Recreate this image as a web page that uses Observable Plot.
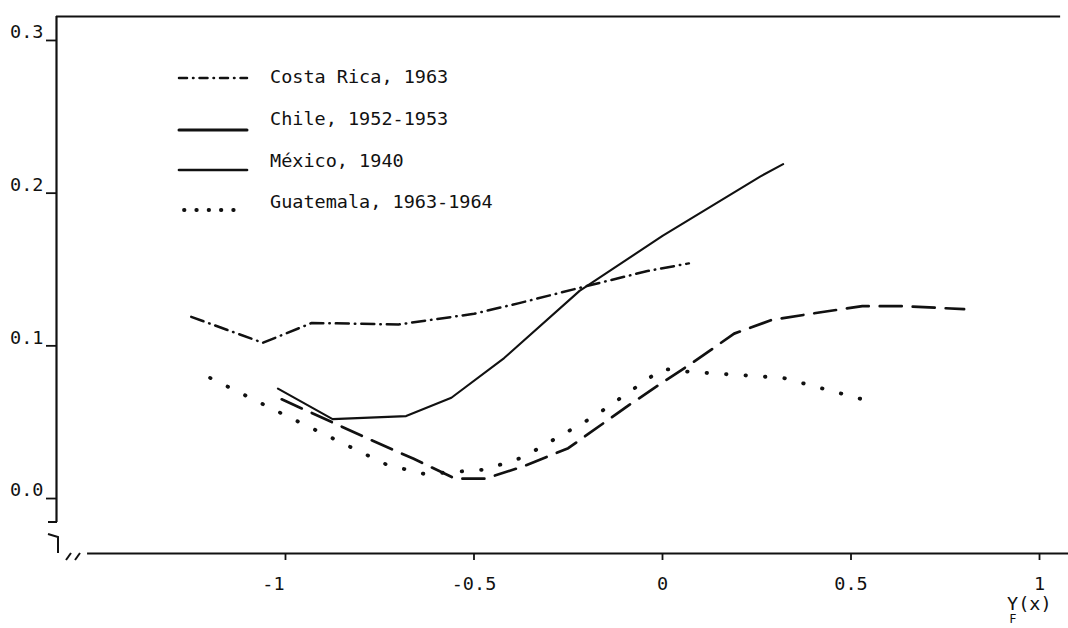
<!DOCTYPE html>
<html><head><meta charset="utf-8">
<script src="https://cdn.jsdelivr.net/npm/d3@7"></script>
<script src="https://cdn.jsdelivr.net/npm/@observablehq/plot@0.6"></script>
<style>
body{margin:0;background:#fff;}
#wrap{position:relative;width:1068px;height:628px;font-family:"DejaVu Sans Mono",monospace;color:#111;overflow:hidden;}
.lg{position:absolute;font-size:18.5px;line-height:22px;white-space:nowrap;}
#deco{position:absolute;left:0;top:0;}
</style></head><body><div id="wrap"></div>
<script>
// ---- data ----
const seriesNames = ["Costa Rica, 1963", "Chile, 1952-1953", "México, 1940", "Guatemala, 1963-1964"];

const costaRicaX = [-1.25, -1.06, -0.93, -0.70, -0.50, -0.38, -0.22, -0.04, 0.07];
const costaRicaY = [0.119, 0.102, 0.115, 0.114, 0.121, 0.128, 0.138, 0.149, 0.154];

const chileX = [-1.02, -0.875, -0.68, -0.56, -0.42, -0.22, 0.0, 0.26, 0.32];
const chileY = [0.072, 0.052, 0.054, 0.066, 0.092, 0.136, 0.172, 0.211, 0.219];

const mexicoX = [-1.01, -0.77, -0.66, -0.55, -0.47, -0.37, -0.25, -0.09, 0.0, 0.08, 0.19, 0.29, 0.42, 0.53, 0.64, 0.80];
const mexicoY = [0.065, 0.038, 0.026, 0.013, 0.013, 0.021, 0.033, 0.061, 0.076, 0.089, 0.108, 0.117, 0.122, 0.126, 0.126, 0.124];

const guatemalaX = [-1.20, -0.98, -0.73, -0.63, -0.47, -0.37, -0.18, 0.0, 0.07, 0.32, 0.56];
const guatemalaY = [0.079, 0.052, 0.022, 0.016, 0.019, 0.027, 0.054, 0.085, 0.083, 0.079, 0.063];

const xTicks = [-1, -0.5, 0, 0.5, 1];
const xTickLabels = ["-1", "-0.5", "0", "0.5", "1"];
const yTicks = [0.0, 0.1, 0.2, 0.3];
const yTickLabels = ["0.0", "0.1", "0.2", "0.3"];
const xAxisTitle = "Y";
const xAxisSub = "F";
const xAxisTail = "(x)";

// ---- build tables ----
const toRows = (xs, ys) => xs.map((x, i) => ({x, y: ys[i]}));
const costaRica = toRows(costaRicaX, costaRicaY);
const chile = toRows(chileX, chileY);
const mexico = toRows(mexicoX, mexicoY);
const guatemala = toRows(guatemalaX, guatemalaY);

const styles = [
  {strokeWidth: 2.5, strokeDasharray: "13,6,0.5,6"},
  {strokeWidth: 2.1, strokeDasharray: null},
  {strokeWidth: 2.7, strokeDasharray: "22,11"},
  {strokeWidth: 3.8, strokeDasharray: "0.5,19"}
];

const xDomain = [-1.6074, 1.0769];
const yDomain = [-0.036, 0.3157];
const ink = "#111";

const lineOpts = (s) => ({x: "x", y: "y", stroke: ink, strokeWidth: s.strokeWidth,
  strokeDasharray: s.strokeDasharray || undefined, strokeLinecap: "round", strokeLinejoin: "round"});

const fmtX = (d) => xTickLabels[xTicks.indexOf(d)];
const fmtY = (d) => yTickLabels[yTicks.indexOf(d)];

const chart = Plot.plot({
  width: 1068, height: 628,
  marginLeft: 56, marginRight: 0, marginTop: 16, marginBottom: 75,
  x: {domain: xDomain},
  y: {domain: yDomain},
  style: {fontFamily: "'DejaVu Sans Mono', monospace", fontSize: "18.5px", color: ink, background: "#fff"},
  marks: [
    Plot.ruleX([xDomain[0]], {y1: -0.0157, y2: yDomain[1], stroke: ink, strokeWidth: 2.2}),
    Plot.ruleY([yDomain[1]], {x1: xDomain[0], x2: 1.056, stroke: ink, strokeWidth: 2.2}),
    Plot.ruleY([yDomain[0]], {x1: -1.525, x2: xDomain[1], stroke: ink, strokeWidth: 2.2}),
    // y ticks (lines) and labels (raised, typewriter style)
    Plot.axisY(yTicks, {tickSize: 10, strokeWidth: 1.8, tickFormat: () => "", label: null}),
    Plot.axisY(yTicks, {tickSize: 0, tickPadding: 13, dy: -8, tickFormat: fmtY, label: null}),
    // x ticks and labels
    Plot.axisX(xTicks, {tickSize: 7, strokeWidth: 1.8, tickFormat: () => "", label: null}),
    Plot.axisX(xTicks.filter((d) => d !== -1), {tickSize: 0, tickPadding: 23, tickFormat: fmtX, label: null}),
    Plot.axisX([-1], {tickSize: 0, tickPadding: 23, dx: -12, tickFormat: fmtX, label: null}),
    Plot.line(costaRica, lineOpts(styles[0])),
    Plot.line(chile, lineOpts(styles[1])),
    Plot.line(mexico, lineOpts(styles[2])),
    Plot.line(guatemala, lineOpts(styles[3]))
  ]
});

const wrap = document.getElementById("wrap");
wrap.appendChild(chart);

// ---- legend overlay (inside the frame, upper left) ----
const legendTop = [78, 120, 162, 203];
const swatchY = [78, 130, 170, 210];
const ns = "http://www.w3.org/2000/svg";
const deco = document.createElementNS(ns, "svg");
deco.setAttribute("id", "deco");
deco.setAttribute("width", 1068);
deco.setAttribute("height", 628);
seriesNames.forEach((name, i) => {
  const d = document.createElement("div");
  d.className = "lg";
  d.style.left = "270px";
  d.style.top = (legendTop[i] - 12) + "px";
  d.textContent = name;
  wrap.appendChild(d);
  const ln = document.createElementNS(ns, "line");
  ln.setAttribute("x1", i === 3 ? 184 : 179);
  ln.setAttribute("x2", i === 3 ? 244 : 247);
  ln.setAttribute("y1", swatchY[i]);
  ln.setAttribute("y2", swatchY[i]);
  ln.setAttribute("stroke", ink);
  ln.setAttribute("stroke-width", i === 1 ? 3 : styles[i].strokeWidth);
  ln.setAttribute("stroke-linecap", "round");
  if (i === 0) ln.setAttribute("stroke-dasharray", "8,6,0.5,6");
  if (i === 3) ln.setAttribute("stroke-dasharray", "0.5,11.8");
  deco.appendChild(ln);
});
// axis break marks at lower left
["M48,522 H57", "M48,534 L58,537 L58,553", "M66,560 L71,553", "M75,560 L80,553"].forEach((p) => {
  const path = document.createElementNS(ns, "path");
  path.setAttribute("d", p);
  path.setAttribute("fill", "none");
  path.setAttribute("stroke", ink);
  path.setAttribute("stroke-width", 2);
  deco.appendChild(path);
});
wrap.appendChild(deco);

// ---- x-axis title Y_F(x) ----
const t = document.createElement("div");
t.className = "lg";
t.style.left = "1007px";
t.style.top = "593px";
t.innerHTML = `${xAxisTitle}<span style="display:inline-block;width:0;position:relative;left:-9px;top:13px;font-size:12px">${xAxisSub}</span>${xAxisTail}`;
wrap.appendChild(t);
</script>
</body></html>
